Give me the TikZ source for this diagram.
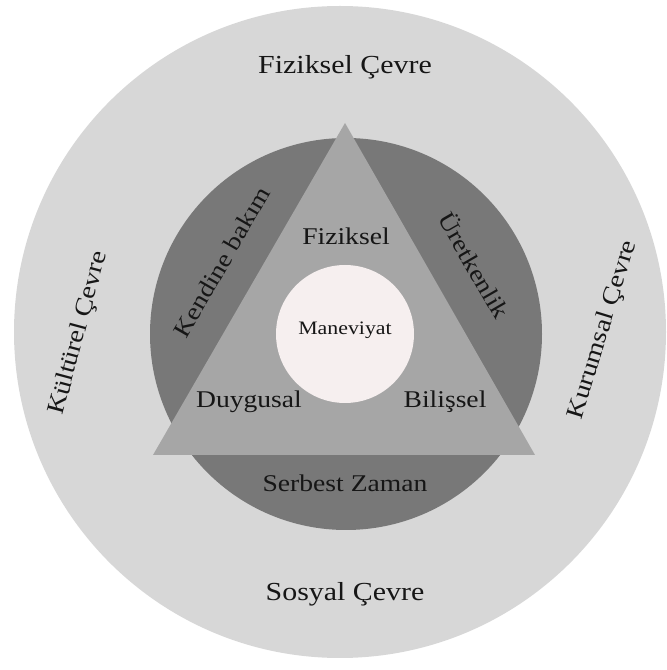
\documentclass[tikz,border=0pt]{standalone}
\usepackage{fontspec}
\setmainfont{Liberation Serif}[FakeStretch=1.15]
\definecolor{outergray}{HTML}{D7D7D7}
\definecolor{ringgray}{HTML}{787878}
\definecolor{trigray}{HTML}{A6A6A6}
\definecolor{corepink}{HTML}{F6EFEF}
\definecolor{txtgray}{HTML}{161616}

\begin{document}
\begin{tikzpicture}[x=1pt,y=1pt,
  lbl/.style={text=txtgray,inner sep=0pt},
  outerlbl/.style={lbl,font=\fontsize{26}{30}\selectfont},
  sidelbl/.style={lbl,font=\fontsize{24.5}{28}\selectfont},
  midlbl/.style={lbl,font=\fontsize{24}{28}\selectfont}]
  \useasboundingbox (0,0) rectangle (667,670);
  % circles and triangle
  \fill[outergray] (340,338) circle (326pt);
  \fill[ringgray] (346,336) circle (196pt);
  \fill[trigray] (345,547) -- (535,215) -- (153,215) -- cycle;
  \fill[corepink] (345,336) circle (69pt);
  % outer ring
  \node[outerlbl] (fizcevre) at (345,603) {Fiziksel Çevre};
  \node[outerlbl] (soscevre) at (345,76) {Sosyal Çevre};
  \node[sidelbl,rotate=75] (kulcevre) at (79,337) {Kültürel Çevre};
  \node[sidelbl,rotate=73] (kurcevre) at (603,340) {Kurumsal Çevre};
  % dark ring
  \node[midlbl,rotate=60] (kendine) at (222,408) {Kendine bakım};
  \node[midlbl,rotate=-60] (uretken) at (475,405) {Üretkenlik};
  \node[midlbl] (serbest) at (345,187) {Serbest Zaman};
  % triangle
  \node[midlbl] (fiziksel) at (346,434) {Fiziksel};
  \node[midlbl] (duygusal) at (249,268) {Duygusal};
  \node[midlbl] (bilissel) at (445,268) {Bilişsel};
  \node[lbl,font=\fontsize{19}{22}\selectfont] (maneviyat) at (345,340) {Maneviyat};
\end{tikzpicture}
\end{document}
